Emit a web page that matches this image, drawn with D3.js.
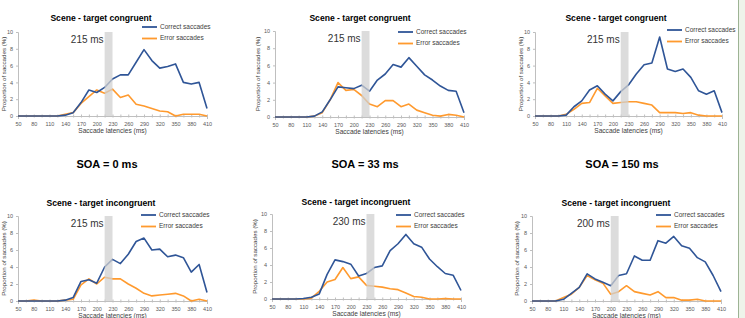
<!DOCTYPE html>
<meta charset="utf-8">
<script src="https://d3js.org/d3.v7.min.js"></script>
<style>
  body { margin: 0; background: #fff; }
  svg { display: block; font-family: "Liberation Sans", Arial, sans-serif; }
</style>
<body>
<div id="chart"></div>
<script>
  // categories (ms) and tick labels
  const latencies = [50, 65, 80, 95, 110, 125, 140, 155, 170, 185, 200, 215, 230, 245, 260, 275, 290, 305, 320, 335, 350, 365, 380, 395, 410];
  const tickLabels = [50, 80, 110, 140, 170, 200, 230, 260, 290, 320, 350, 380, 410];
  const soaLabels = ["SOA = 0 ms", "SOA = 33 ms", "SOA = 150 ms"];
  const titles = ["Scene - target congruent", "Scene - target incongruent"];
  const seriesNames = ["Correct saccades", "Error saccades"];
  const bandStart = [215, 215, 215, 215, 230, 200];

  // congruent, SOA 0 / 33 / 150
  const correctCong0 = [0, 0, 0, 0, 0, 0, 0.1, 0.4, 1.6, 3.1, 2.8, 3.4, 4.4, 4.9, 4.9, 6.4, 7.9, 6.6, 5.7, 5.9, 6.2, 4.0, 3.8, 4.0, 0.9];
  const errorCong0 = [0, 0, 0, 0, 0, 0, 0.2, 0.4, 1.5, 2.3, 3.1, 2.7, 3.2, 2.2, 2.5, 1.4, 1.2, 0.9, 0.6, 0.5, 0.0, 0.2, 0.2, 0.2, 0.0];
  const correctCong33 = [0, 0, 0, 0, 0, 0.1, 0.6, 2.0, 3.5, 3.4, 3.3, 3.7, 3.0, 4.3, 5.0, 6.1, 5.8, 6.9, 5.9, 4.9, 4.3, 3.6, 3.1, 3.0, 0.5];
  const errorCong33 = [0, 0, 0, 0, 0, 0.1, 0.5, 2.0, 4.0, 3.1, 3.2, 2.5, 1.5, 1.2, 1.9, 1.9, 1.2, 1.5, 0.8, 0.5, 0.2, 0.1, 0.3, 0.2, 0.0];
  const correctCong150 = [0, 0, 0, 0, 0.1, 1.1, 1.8, 3.1, 3.6, 2.6, 1.8, 2.9, 3.7, 5.0, 6.1, 6.3, 9.4, 5.6, 5.3, 5.6, 4.6, 3.0, 2.6, 3.0, 0.4];
  const errorCong150 = [0, 0, 0, 0, 0.2, 0.8, 1.5, 1.6, 3.3, 2.4, 1.5, 1.6, 1.7, 1.7, 1.5, 1.3, 0.4, 0.4, 0.4, 0.3, 0.4, 0.1, 0.0, 0.0, 0.0];
  // incongruent, SOA 0 / 33 / 150
  const correctInc0 = [0, 0, 0, 0, 0, 0, 0.1, 0.4, 2.3, 2.5, 2.1, 4.0, 4.9, 4.4, 5.5, 7.0, 7.4, 6.0, 6.1, 5.2, 5.4, 5.1, 3.4, 4.3, 1.0];
  const errorInc0 = [0, 0, 0.1, 0, 0, 0, 0.1, 0.2, 1.9, 2.6, 2.0, 2.8, 2.6, 2.6, 2.0, 1.5, 0.9, 0.6, 0.7, 0.8, 0.9, 0.6, 0.0, 0.2, 0.0];
  const correctInc33 = [0, 0, 0, 0, 0.05, 0.2, 0.6, 2.9, 4.6, 4.4, 4.1, 2.7, 3.0, 3.7, 3.9, 5.7, 6.5, 7.6, 6.5, 6.1, 4.7, 3.8, 3.0, 2.8, 1.0];
  const errorInc33 = [0, 0, 0, 0, 0, 0.1, 0.9, 2.0, 2.3, 3.7, 2.4, 2.6, 1.6, 1.5, 1.4, 1.2, 1.1, 0.7, 0.3, 0.2, 0.0, 0.0, 0.05, 0.0, 0.0];
  const correctInc150 = [0, 0, 0, 0, 0.2, 0.9, 1.6, 3.2, 2.6, 2.2, 1.8, 3.0, 3.2, 5.3, 4.8, 4.8, 7.1, 6.8, 7.6, 6.5, 6.2, 5.1, 4.6, 3.0, 1.1];
  const errorInc150 = [0, 0, 0, 0, 0.4, 0.8, 1.6, 3.0, 2.5, 2.1, 0.8, 1.1, 1.8, 1.1, 0.9, 0.7, 1.1, 0.4, 0.4, 0.1, 0.1, 0.2, 0.0, 0.0, 0.0];

  const correctSets = [correctCong0, correctCong33, correctCong150, correctInc0, correctInc33, correctInc150];
  const errorSets = [errorCong0, errorCong33, errorCong150, errorInc0, errorInc33, errorInc150];

  const blue = "#2f5597", orange = "#ff9a2e";

  const width = 745, height = 318;
  const svg = d3.select("#chart").append("svg")
    .attr("width", width).attr("height", height);

  // panel boxes: plot area left/right/top/bottom, title centre, legend x, y-label x
  const panels = [
    { l: 18, r: 207, t: 32, b: 116, tx: 101, ty: 21, lx: 142, ly: 27, yl: 4 },
    { l: 275, r: 464, t: 31, b: 117, tx: 360, ty: 21, lx: 398, ly: 32, yl: 258 },
    { l: 535, r: 722, t: 32, b: 116, tx: 616, ty: 21, lx: 667, ly: 30, yl: 521 },
    { l: 18, r: 207, t: 216, b: 301, tx: 101, ty: 206, lx: 141, ly: 215, yl: 4 },
    { l: 272, r: 461, t: 214, b: 299, tx: 356, ty: 205, lx: 396, ly: 215, yl: 255 },
    { l: 532, r: 721, t: 216, b: 301, tx: 616, ty: 206, lx: 656, ly: 215, yl: 517 }
  ];

  panels.forEach((p, i) => {
    const g = svg.append("g");
    const x = d3.scaleLinear().domain([50, 410]).range([p.l, p.r]);
    const y = d3.scaleLinear().domain([0, 10]).range([p.b, p.t]);

    // title
    g.append("text").attr("x", p.tx).attr("y", p.ty)
      .attr("text-anchor", "middle").attr("font-weight", "bold")
      .attr("font-size", 8.6).attr("fill", "#000")
      .text(titles[Math.floor(i / 3)]);

    // y axis
    const yAxis = g.append("g").attr("transform", `translate(${p.l},0)`)
      .call(d3.axisLeft(y).tickValues([0, 2, 4, 6, 8, 10]).tickSize(2).tickPadding(3));
    yAxis.select(".domain").attr("stroke", "#bfbfbf");
    yAxis.selectAll(".tick line").attr("stroke", "#bfbfbf");
    yAxis.selectAll("text").attr("font-size", 5.5).attr("fill", "#595959")
      .attr("font-family", "Liberation Sans, Arial, sans-serif");

    // x axis
    const xAxis = g.append("g").attr("transform", `translate(0,${p.b})`)
      .call(d3.axisBottom(x).tickValues(latencies).tickSize(3).tickPadding(3)
        .tickFormat(d => tickLabels.includes(d) ? d : ""));
    xAxis.select(".domain").attr("stroke", "#bfbfbf");
    xAxis.selectAll(".tick line").attr("stroke", "#bfbfbf").attr("y1", -1.5).attr("y2", 1.5);
    xAxis.selectAll("text").attr("font-size", 5.5).attr("fill", "#595959")
      .attr("font-family", "Liberation Sans, Arial, sans-serif");

    // axis titles
    g.append("text").attr("x", (p.l + p.r) / 2).attr("y", p.b + 17)
      .attr("text-anchor", "middle").attr("font-size", 6.6).attr("fill", "#404040")
      .text("Saccade latencies (ms)");
    g.append("text")
      .attr("transform", `translate(${p.yl},${(p.t + p.b) / 2}) rotate(-90)`)
      .attr("text-anchor", "middle").attr("dominant-baseline", "middle")
      .attr("font-size", 6.2).attr("fill", "#404040")
      .text("Proportion of saccades (%)");

    // series
    const line = d3.line().x((d, k) => x(latencies[k])).y(d => y(d));
    g.append("path").datum(errorSets[i]).attr("d", line)
      .attr("fill", "none").attr("stroke", orange).attr("stroke-width", 1.6)
      .attr("stroke-linejoin", "round");
    g.append("path").datum(correctSets[i]).attr("d", line)
      .attr("fill", "none").attr("stroke", blue).attr("stroke-width", 1.6)
      .attr("stroke-linejoin", "round");

    // grey band marking the crossover latency
    g.append("rect").attr("x", x(bandStart[i])).attr("y", y(10))
      .attr("width", x(bandStart[i] + 15) - x(bandStart[i])).attr("height", y(0) - y(10))
      .attr("fill", "#d0d0d0").attr("opacity", 0.75);
    g.append("text").attr("x", x(bandStart[i]) - 1).attr("y", y(10) + 11)
      .attr("text-anchor", "end").attr("font-size", 10).attr("fill", "#333")
      .text(bandStart[i] + " ms");

    // legend
    [blue, orange].forEach((c, k) => {
      const ly = p.ly + k * 11.5;
      g.append("line").attr("x1", p.lx).attr("x2", p.lx + 15).attr("y1", ly).attr("y2", ly)
        .attr("stroke", c).attr("stroke-width", 1.8);
      g.append("text").attr("x", p.lx + 18).attr("y", ly).attr("dominant-baseline", "middle")
        .attr("font-size", 6.5).attr("fill", "#404040").text(seriesNames[k]);
    });
  });

  // SOA labels between the rows
  [107, 365, 622].forEach((cx, k) => {
    svg.append("text").attr("x", cx).attr("y", 168).attr("text-anchor", "middle")
      .attr("font-weight", "bold").attr("font-size", 11).attr("fill", "#000")
      .text(soaLabels[k]);
  });

  // green strip at the right edge
  svg.append("rect").attr("x", 738).attr("y", 0).attr("width", 7).attr("height", height)
    .attr("fill", "#eef4ea");
  svg.append("line").attr("x1", 738.5).attr("x2", 738.5).attr("y1", 0).attr("y2", height)
    .attr("stroke", "#9db394").attr("stroke-width", 1);
</script>
</body>
